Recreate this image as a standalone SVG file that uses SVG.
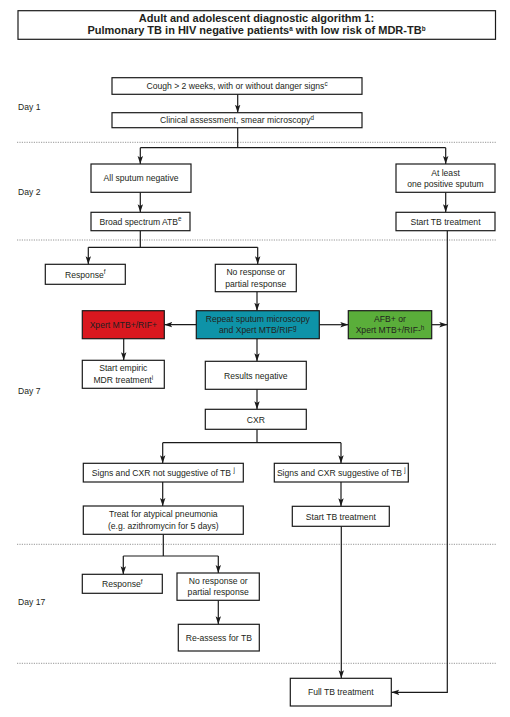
<svg xmlns="http://www.w3.org/2000/svg" width="510" height="717" viewBox="0 0 510 717">
<defs>
<marker id="arr" viewBox="0 0 8 6" refX="8" refY="3" markerWidth="8" markerHeight="6" markerUnits="userSpaceOnUse" orient="auto">
<path d="M0,0.3 L8,3 L0,5.7 L1.8,3 z" fill="#1a1a1a"/>
</marker>
</defs>
<style>
text{font-family:"Liberation Sans",Arial,sans-serif;font-size:8.6px;fill:#231f20;text-anchor:middle}
.lbl{text-anchor:start}
.ttl{font-weight:bold;font-size:11px}
.box{fill:#fff;stroke:#1a1a1a;stroke-width:1.2}
.red{fill:#d9181f}
.teal{fill:#0e93a8}
.green{fill:#5aae3a}
.sup{font-size:6.3px}
.c{fill:none;stroke:#1a1a1a;stroke-width:1.2}
.a{marker-end:url(#arr)}
.dot{stroke:#8a8a8a;stroke-width:0.9;stroke-dasharray:1.2 1.2;fill:none}
</style>
<rect x="0" y="0" width="510" height="717" fill="#fff"/>

<g id="title">
<rect class="box" x="18" y="10.7" width="477.5" height="28.6"/>
<text class="ttl" x="256.5" y="22.3">Adult and adolescent diagnostic algorithm 1:</text>
<text class="ttl" x="256.5" y="34.3">Pulmonary TB in HIV negative patients<tspan class="sup" dy="-3.5">a</tspan><tspan dy="3.5"> with low risk of MDR-TB</tspan><tspan class="sup" dy="-3.5">b</tspan></text>
</g>

<g id="days">
<text class="lbl" x="18" y="110">Day 1</text>
<text class="lbl" x="18" y="195">Day 2</text>
<text class="lbl" x="18" y="394">Day 7</text>
<text class="lbl" x="18" y="605">Day 17</text>
<path class="dot" d="M17,142.3H496M17,240H496M17,544.3H496M17,663.3H496"/>
</g>

<g id="connectors">
<path class="c a" d="M237.7,94.3V112.7"/>
<path class="c" d="M237.7,127.7V147.7M140.3,147.7H445.7"/>
<path class="c a" d="M140.3,147.7V164"/>
<path class="c a" d="M445.7,147.7V164"/>
<path class="c a" d="M140.3,192.3V212.3"/>
<path class="c a" d="M445.7,192.3V212.3"/>
<path class="c" d="M140.3,230.7V247.3M88.3,247.3H257.7"/>
<path class="c a" d="M88.3,247.3V264.3"/>
<path class="c a" d="M257.7,247.3V264.3"/>
<path class="c a" d="M257,291.7V310.7"/>
<path class="c a" d="M196.3,324.7H164.3"/>
<path class="c a" d="M319.3,324.7H348.3"/>
<path class="c a" d="M431.7,324.7H447.3"/>
<path class="c a" d="M447.3,230.7V692.3H391.3"/>
<path class="c a" d="M123.7,338.7V360.3"/>
<path class="c a" d="M257,338.7V361.3"/>
<path class="c a" d="M257,389.3V409.3"/>
<path class="c" d="M257,429.3V442.7M162.7,442.7H341"/>
<path class="c a" d="M162.7,442.7V463.3"/>
<path class="c a" d="M341,442.7V463.3"/>
<path class="c a" d="M162.7,482V506"/>
<path class="c a" d="M341,482V506.3"/>
<path class="c" d="M163.3,534.3V556M123.3,556H218.3"/>
<path class="c a" d="M123.3,556V574.3"/>
<path class="c a" d="M218.3,556V573"/>
<path class="c a" d="M218.3,600.3V624.3"/>
<path class="c a" d="M341.3,526.3V678.3"/>
</g>

<g id="cough">
<rect class="box" x="112" y="77.7" width="250" height="16.6"/>
<text x="237" y="89.2">Cough &gt; 2 weeks, with or without danger signs<tspan class="sup" dy="-3.5">c</tspan></text>
</g>
<g id="clinical">
<rect class="box" x="112" y="112.7" width="250" height="15"/>
<text x="237" y="123.3">Clinical assessment, smear microscopy<tspan class="sup" dy="-3.5">d</tspan></text>
</g>
<g id="neg">
<rect class="box" x="91" y="164" width="100" height="28.3"/>
<text x="141" y="181">All sputum negative</text>
</g>
<g id="pos">
<rect class="box" x="396" y="164" width="99" height="28.3"/>
<text x="445.5" y="175.5">At least</text>
<text x="445.5" y="187">one positive sputum</text>
</g>
<g id="atb">
<rect class="box" x="91" y="212.3" width="99" height="18.4"/>
<text x="140.5" y="224.5">Broad spectrum ATB<tspan class="sup" dy="-3.5">e</tspan></text>
</g>
<g id="starttb1">
<rect class="box" x="396" y="212.3" width="99" height="18.4"/>
<text x="445.5" y="224.5">Start TB treatment</text>
</g>
<g id="resp1">
<rect class="box" x="45.3" y="264.3" width="80" height="20"/>
<text x="85.3" y="277.5">Response<tspan class="sup" dy="-3.5">f</tspan></text>
</g>
<g id="noresp1">
<rect class="box" x="215.3" y="264.3" width="81" height="27.4"/>
<text x="255.8" y="274.8">No response or</text>
<text x="255.8" y="286.5">partial response</text>
</g>
<g id="repeat">
<rect class="box teal" x="196.3" y="310.7" width="123" height="28"/>
<text x="257.8" y="321.7">Repeat sputum microscopy</text>
<text x="257.8" y="333.3">and Xpert MTB/RIF<tspan class="sup" dy="-3.5">g</tspan></text>
</g>
<g id="rifpos">
<rect class="box red" x="82.3" y="310.7" width="82" height="28"/>
<text x="123.3" y="327.8">Xpert MTB+/RIF+</text>
</g>
<g id="afb">
<rect class="box green" x="348.3" y="310.7" width="83.4" height="28"/>
<text x="390" y="321.7">AFB+ or</text>
<text x="390" y="333.3">Xpert MTB+/RIF-<tspan class="sup" dy="-3.5">h</tspan></text>
</g>
<g id="empiric">
<rect class="box" x="82.3" y="360.3" width="82" height="28"/>
<text x="123.3" y="371.3">Start empiric</text>
<text x="123.3" y="383">MDR treatment<tspan class="sup" dy="-3.5">i</tspan></text>
</g>
<g id="resneg">
<rect class="box" x="205.3" y="361.3" width="101" height="28"/>
<text x="255.8" y="378.5">Results negative</text>
</g>
<g id="cxr">
<rect class="box" x="205.3" y="409.3" width="101" height="20"/>
<text x="255.8" y="422.5">CXR</text>
</g>
<g id="notsug">
<rect class="box" x="83.3" y="463.3" width="160" height="18.7"/>
<text x="163.3" y="475.7">Signs and CXR not suggestive of TB <tspan class="sup" dy="-3.5">j</tspan></text>
</g>
<g id="sug">
<rect class="box" x="274.3" y="463.3" width="134" height="18.7"/>
<text x="341.3" y="475.7">Signs and CXR suggestive of TB <tspan class="sup" dy="-3.5">j</tspan></text>
</g>
<g id="treat">
<rect class="box" x="83.3" y="506" width="160" height="28.3"/>
<text x="163.3" y="517.2">Treat for atypical pneumonia</text>
<text x="163.3" y="529">(e.g. azithromycin for 5 days)</text>
</g>
<g id="starttb2">
<rect class="box" x="292.3" y="506.3" width="97" height="20"/>
<text x="340.8" y="519.5">Start TB treatment</text>
</g>
<g id="resp2">
<rect class="box" x="82.3" y="574.3" width="80" height="19"/>
<text x="122.3" y="587">Response<tspan class="sup" dy="-3.5">f</tspan></text>
</g>
<g id="noresp2">
<rect class="box" x="177" y="573" width="82.3" height="27.3"/>
<text x="218.2" y="583.5">No response or</text>
<text x="218.2" y="595.3">partial response</text>
</g>
<g id="reassess">
<rect class="box" x="178.3" y="624.3" width="81" height="26.7"/>
<text x="218.8" y="640.5">Re-assess for TB</text>
</g>
<g id="full">
<rect class="box" x="290.3" y="678.3" width="101" height="27.7"/>
<text x="340.8" y="695">Full TB treatment</text>
</g>
</svg>
